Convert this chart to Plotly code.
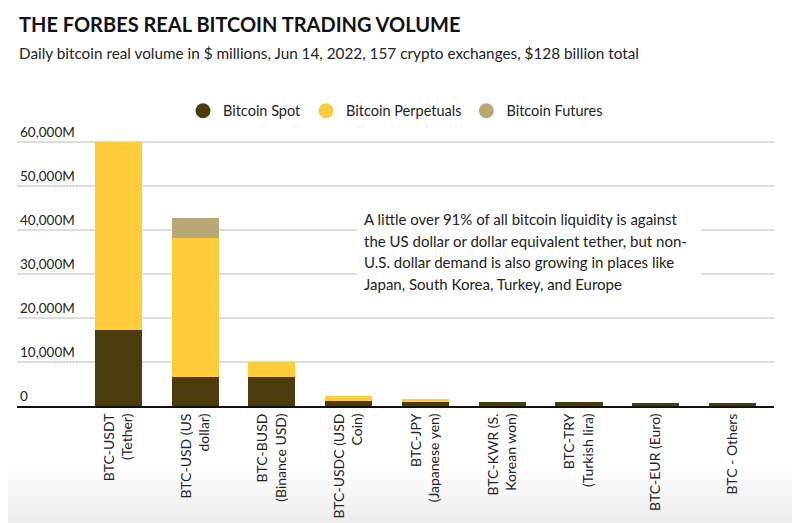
import plotly.graph_objects as go

categories = [
    "BTC-USDT<br>(Tether)",
    "BTC-USD (US<br>dollar)",
    "BTC-BUSD<br>(Binance USD)",
    "BTC-USDC (USD<br>Coin)",
    "BTC-JPY<br>(Japanese yen)",
    "BTC-KWR (S.<br>Korean won)",
    "BTC-TRY<br>(Turkish lira)",
    "BTC-EUR (Euro)",
    "BTC - Others",
]
spot = [17250, 6500, 6500, 1200, 900, 900, 850, 650, 650]
perpetuals = [42750, 31700, 3500, 1000, 700, 0, 0, 0, 0]
futures = [0, 4400, 0, 0, 0, 0, 0, 0, 0]

series_names = ["Bitcoin Spot", "Bitcoin Perpetuals", "Bitcoin Futures"]
colors = ["#4b3c0e", "#fecb3a", "#b8a874"]

ytick_vals = [0, 10000, 20000, 30000, 40000, 50000, 60000]
ytick_text = ["0", "10,000M", "20,000M", "30,000M", "40,000M", "50,000M", "60,000M"]

note_lines = [
    "A little over 91% of all bitcoin liquidity is against",
    "the US dollar or dollar equivalent tether, but non-",
    "U.S. dollar demand is also growing in places like",
    "Japan, South Korea, Turkey, and Europe",
]

FONT = "Lato"
TXT = "#222222"

# The page body has an 8px margin: the figure starts at page (8, 8).
OFF = 8
W, H = 800 - OFF, 523 - OFF
# plot area in page pixels
PX_L, PX_R, PX_B = 17, 774, 406
YMAX = 64500
PX_PER_M = (406 - 142) / 60000.0
PX_T = PX_B - YMAX * PX_PER_M

L = PX_L - OFF
R = W - (PX_R - OFF)
T = PX_T - OFF
B = H - (PX_B - OFF)
PW, PH = W - L - R, H - T - B


def px_x(px):
    return (px - OFF - L) / PW


def px_y(py):
    return (H - B - (py - OFF)) / PH


fig = go.Figure()
for vals, name, col in zip([spot, perpetuals, futures], series_names, colors):
    fig.add_trace(go.Bar(x=categories, y=vals, name=name, marker_color=col,
                         marker_line_width=0, showlegend=False, hoverinfo="skip"))
for name, col in zip(series_names, colors):
    fig.add_trace(go.Scatter(x=[None], y=[None], mode="markers", name=name,
                             marker=dict(symbol="circle", size=15, color=col)))

annotations = [
    dict(text="<b>THE FORBES REAL BITCOIN TRADING VOLUME</b>", x=px_x(17), y=px_y(24),
         xref="paper", yref="paper", xanchor="left", yanchor="middle", showarrow=False,
         font=dict(family=FONT, size=20, color="#111111")),
    dict(text="Daily bitcoin real volume in $ millions, Jun 14, 2022, 157 crypto exchanges, $128 billion total",
         x=px_x(17), y=px_y(53), xref="paper", yref="paper", xanchor="left", yanchor="middle",
         showarrow=False, font=dict(family=FONT, size=15.3, color=TXT)),
]
for i, line in enumerate(note_lines):
    annotations.append(dict(text=line, x=px_x(362), y=px_y(219 + i * 21.7), xref="paper", yref="paper",
                            xanchor="left", yanchor="middle", showarrow=False,
                            font=dict(family=FONT, size=15, color=TXT)))

shapes = [
    dict(type="rect", xref="paper", yref="paper", x0=px_x(357), x1=px_x(701),
         y0=px_y(296), y1=px_y(205), fillcolor="white", line_width=0, layer="above"),
]
# light grey page footer band
for k in range(6):
    y_top = 470 + k * 9
    shapes.append(dict(type="rect", xref="paper", yref="paper", x0=px_x(OFF), x1=px_x(800),
                       y0=px_y(523), y1=px_y(y_top), fillcolor="rgba(0,0,0,0.012)",
                       line_width=0, layer="below"))

fig.update_layout(
    width=W, height=H,
    margin=dict(l=L, r=R, t=T, b=B, autoexpand=False),
    paper_bgcolor="white", plot_bgcolor="white",
    barmode="stack", bargap=0.387,
    font=dict(family=FONT, size=14, color=TXT),
    showlegend=True,
    legend=dict(orientation="h", x=0.5, xanchor="center", y=px_y(111), yanchor="middle",
                traceorder="normal",
                font=dict(family=FONT, size=14.5, color=TXT), itemsizing="trace",
                bgcolor="rgba(0,0,0,0)"),
    annotations=annotations,
    shapes=shapes,
    xaxis=dict(range=[-1.32, 8.54], tickangle=-90, showgrid=False, showline=True,
               linecolor="#111111", linewidth=2, ticks="", tickfont=dict(family=FONT, size=14, color=TXT),
               fixedrange=True),
    yaxis=dict(range=[0, YMAX], tickvals=ytick_vals, ticktext=ytick_text,
               ticklabelposition="inside top", showgrid=True, gridcolor="#dcdcdc", gridwidth=1.5,
               zeroline=False, showline=False, tickfont=dict(family=FONT, size=13.5, color=TXT),
               fixedrange=True),
)

fig.write_html("out.html")
